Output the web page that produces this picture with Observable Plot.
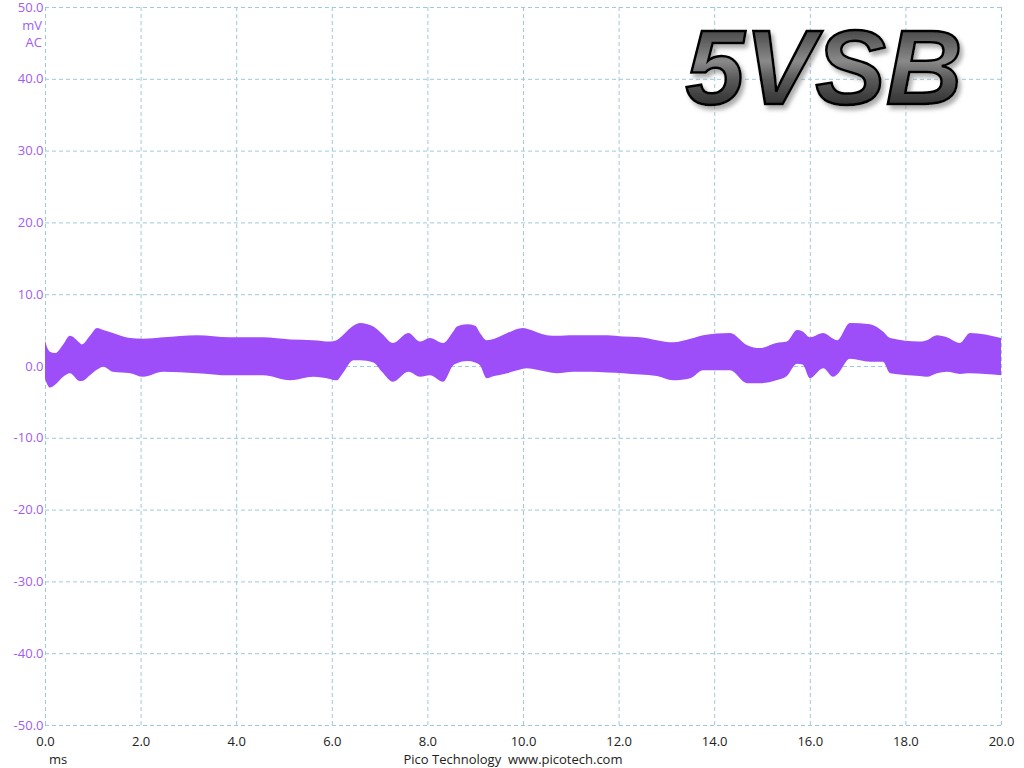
<!DOCTYPE html>
<html>
<head>
<meta charset="utf-8">
<script src="https://cdn.jsdelivr.net/npm/d3@7"></script>
<script src="https://cdn.jsdelivr.net/npm/@observablehq/plot@0.6"></script>
<style>
  body { margin: 0; background: #fff; }
  #chart { position: relative; width: 1024px; height: 768px; font-family: "Open Sans", sans-serif; }
  .lbl { position: absolute; font-size: 13px; line-height: 1; }
</style>
</head>
<body>
<div id="chart">
  <div class="lbl" style="right:982px; top:19px; color:#a15cf2; text-align:right">mV<br><span style="display:inline-block;margin-top:4px">AC</span></div>
  <div class="lbl" style="left:49px; top:753px; color:#222">ms</div>
  <div class="lbl" style="left:0; width:1026px; top:753px; color:#222; text-align:center">Pico Technology&nbsp; www.picotech.com</div>
</div>
<script>
// time in ms, upper and lower edge of the ripple band in mV
const time = [0.00, 0.05, 0.10, 0.21, 0.38, 0.52, 0.73, 0.77, 0.94, 1.09, 1.22, 1.42, 1.78, 2.05, 2.47, 3.18, 3.87, 4.56, 5.13, 5.61, 5.96, 6.10, 6.23, 6.45, 6.59, 6.87, 7.05, 7.28, 7.60, 7.85, 8.05, 8.33, 8.54, 8.62, 8.83, 9.00, 9.10, 9.24, 9.40, 9.67, 10.00, 10.08, 10.50, 10.71, 11.05, 11.40, 11.76, 12.10, 12.45, 12.80, 13.14, 13.50, 13.77, 14.33, 14.69, 14.96, 15.30, 15.52, 15.73, 15.85, 16.00, 16.28, 16.49, 16.57, 16.84, 17.26, 17.53, 17.68, 18.30, 18.45, 18.66, 18.87, 19.14, 19.35, 20.00]
const upper = [3.6, 2.5, 2.0, 1.8, 3.0, 4.2, 3.2, 3.0, 4.2, 5.3, 5.0, 4.6, 3.9, 3.8, 4.0, 4.3, 4.0, 4.0, 3.7, 3.6, 3.4, 3.6, 4.3, 5.6, 6.0, 5.5, 4.5, 3.2, 4.6, 3.4, 3.9, 3.2, 4.8, 5.5, 5.8, 5.6, 4.6, 3.6, 3.8, 4.6, 5.3, 5.2, 4.3, 4.2, 4.3, 4.3, 4.3, 4.1, 4.0, 3.6, 3.3, 3.8, 4.3, 4.6, 2.9, 2.5, 3.2, 3.4, 5.0, 4.8, 4.0, 4.6, 3.8, 3.6, 6.0, 5.8, 4.8, 3.9, 3.4, 3.6, 4.3, 4.0, 3.2, 4.6, 3.9]
const lower = [-1.7, -2.6, -3.0, -2.6, -1.5, -1.0, -2.1, -2.1, -1.3, -0.5, -0.1, -0.8, -1.0, -1.5, -0.8, -1.0, -1.3, -1.3, -2.0, -1.5, -1.8, -2.0, -1.0, 0.8, 0.8, 0.5, -0.8, -2.2, -0.8, -1.5, -1.3, -2.2, 0.1, 0.4, 0.7, 0.5, 0.1, -1.7, -1.4, -1.0, -0.4, -0.3, -0.8, -1.0, -0.8, -0.8, -0.9, -1.0, -1.2, -1.4, -2.0, -1.7, -0.6, -0.6, -2.4, -2.4, -2.0, -1.4, 0.3, 0.2, -1.7, -0.3, -1.5, -1.2, 1.0, 0.6, 0.6, -1.0, -1.4, -1.5, -1.0, -0.8, -1.1, -1.0, -1.3]

const xTicks = d3.range(0, 21, 2)
const yTicks = d3.range(-50, 51, 10)

const band = time.map((t, i) => ({t, hi: upper[i], lo: lower[i]}))

const gridStyle = {stroke: "#9ec9de", strokeOpacity: 1, strokeDasharray: "4,3"}

const chart = Plot.plot({
  width: 1024,
  height: 768,
  marginTop: 7,
  marginRight: 23,
  marginBottom: 43,
  marginLeft: 45,
  style: {fontFamily: "Open Sans, sans-serif", fontSize: "13px", background: "transparent", overflow: "visible"},
  x: {domain: [0, 20]},
  y: {domain: [-50, 50]},
  marks: [
    Plot.gridX(xTicks, gridStyle),
    Plot.gridY(yTicks, gridStyle),
    Plot.areaY(band, {x: "t", y1: "lo", y2: "hi", fill: "#9d4ef9", curve: "monotone-x"}),
    Plot.axisY(yTicks, {tickSize: 0, tickPadding: 2, tickFormat: d => d.toFixed(1), fill: "#a15cf2", label: null}),
    Plot.axisX(xTicks, {tickSize: 0, tickPadding: 11, tickFormat: d => d.toFixed(1), fill: "#222", label: null}),
  ]
})

// big "5VSB" caption with metallic fill
const svg = d3.select(chart)
const defs = svg.append("defs")
const grad = defs.append("linearGradient").attr("id", "metal").attr("x1", 0).attr("y1", 0).attr("x2", 0).attr("y2", 1)
grad.append("stop").attr("offset", "0%").attr("stop-color", "#1a1a1a")
grad.append("stop").attr("offset", "45%").attr("stop-color", "#8a8a8a")
grad.append("stop").attr("offset", "60%").attr("stop-color", "#5a5a5a")
grad.append("stop").attr("offset", "100%").attr("stop-color", "#111")
const f = defs.append("filter").attr("id", "shadow").attr("x", "-10%").attr("y", "-10%").attr("width", "130%").attr("height", "140%")
f.append("feDropShadow").attr("dx", 3).attr("dy", 4).attr("stdDeviation", 2).attr("flood-color", "#777").attr("flood-opacity", 0.6)
svg.append("text")
  .attr("x", 824).attr("y", 104)
  .attr("text-anchor", "middle")
  .attr("font-family", "Liberation Sans, Arial, sans-serif")
  .attr("font-weight", "bold").attr("font-style", "italic")
  .attr("font-size", 106)
  .attr("fill", "url(#metal)")
  .attr("stroke", "#000").attr("stroke-width", 2.5)
  .attr("filter", "url(#shadow)")
  .text("5VSB")

d3.select("#chart").insert(() => chart, ":first-child")
</script>
</body>
</html>
